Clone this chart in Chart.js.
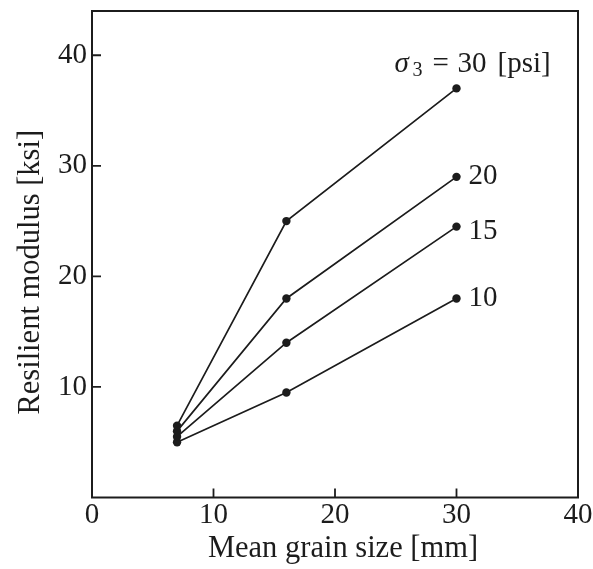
<!DOCTYPE html>
<html lang="en">
<head>
    <meta charset="UTF-8">
    <title>Resilient modulus vs grain size</title>
    <style>
        body {
            margin: 0;
            background: #fff;
        }
        canvas {
            display: block;
        }
    </style>
    <script src="https://cdn.jsdelivr.net/npm/chart.js"></script>
</head>
<body>

<canvas id="grafico" width="593" height="569"></canvas>

<script>
// data
const grainSize = [7, 16, 30];
const confiningPressure = ['30', '20', '15', '10'];
const modulus30 = [6.5, 25, 37];
const modulus20 = [6, 18, 29];
const modulus15 = [5.5, 14, 24.5];
const modulus10 = [5, 9.5, 18];
const xTicks = [0, 10, 20, 30, 40];
const yTicks = [10, 20, 30, 40];

const serif = '"Liberation Serif", "DejaVu Serif", serif';
const ink = '#1c1c1c';

const series = [modulus30, modulus20, modulus15, modulus10];

// box, inward ticks, curve labels and axis titles
const boxPlugin = {
    id: 'box',
    afterDraw(chart) {
        const ctx = chart.ctx;
        const a = chart.chartArea;
        const xs = chart.scales.x;
        const ys = chart.scales.y;
        ctx.save();
        ctx.strokeStyle = ink;
        ctx.lineWidth = 2;
        ctx.strokeRect(a.left, a.top, a.right - a.left, a.bottom - a.top);

        ctx.lineWidth = 1.8;
        ctx.beginPath();
        xTicks.forEach(v => {
            if (v <= xs.min || v >= xs.max) return;
            const px = xs.getPixelForValue(v);
            ctx.moveTo(px, a.bottom);
            ctx.lineTo(px, a.bottom - 9);
        });
        yTicks.forEach(v => {
            const py = ys.getPixelForValue(v);
            ctx.moveTo(a.left, py);
            ctx.lineTo(a.left + 9, py);
        });
        ctx.stroke();

        // curve labels next to last points
        ctx.fillStyle = ink;
        const last = grainSize.length - 1;
        const lx = xs.getPixelForValue(grainSize[last]);
        const dy = [0, 0, 5, 0];
        confiningPressure.forEach((p, i) => {
            const ly = ys.getPixelForValue(series[i][last]);
            if (i === 0) {
                // sigma_3 = 30 [psi]
                const x0 = lx - 62;
                const y = ly - 16;
                ctx.textBaseline = 'alphabetic';
                ctx.textAlign = 'left';
                ctx.font = 'italic 29px ' + serif;
                ctx.fillText('σ', x0, y);
                ctx.font = '20px ' + serif;
                ctx.fillText('3', x0 + 18, y + 4);
                ctx.font = '29px ' + serif;
                ctx.fillText('=', x0 + 38, y);
                ctx.fillText(p, x0 + 63, y);
                ctx.fillText('[psi]', x0 + 103, y);
            } else {
                ctx.textBaseline = 'middle';
                ctx.font = '29px ' + serif;
                ctx.fillText(p, lx + 12, ly + dy[i]);
            }
        });

        // axis titles
        ctx.font = '30.5px ' + serif;
        ctx.textAlign = 'center';
        ctx.textBaseline = 'alphabetic';
        ctx.fillText('Mean grain size [mm]', (a.left + a.right) / 2 + 8, 557);
        ctx.translate(39, (a.top + a.bottom) / 2 + 18);
        ctx.rotate(-Math.PI / 2);
        ctx.fillText('Resilient modulus [ksi]', 0, 0);
        ctx.restore();
    }
};

const ctx = document.getElementById('grafico').getContext('2d');
const chart = new Chart(ctx, {
    type: 'line',
    data: {
        datasets: series.map((vals, i) => ({
            label: confiningPressure[i],
            data: grainSize.map((g, j) => ({ x: g, y: vals[j] })),
            borderColor: ink,
            backgroundColor: ink,
            borderWidth: 1.7,
            pointRadius: 4.2,
            pointBorderWidth: 0,
            tension: 0,
            fill: false
        }))
    },
    options: {
        responsive: false,
        animation: false,
        layout: {
            padding: { top: 11, right: 15, left: 0, bottom: 0 }
        },
        plugins: {
            legend: { display: false },
            tooltip: { enabled: false }
        },
        scales: {
            x: {
                type: 'linear',
                min: 0,
                max: 40,
                afterBuildTicks: s => { s.ticks = xTicks.map(v => ({ value: v })); },
                afterFit: s => { s.height = 71.5; s.paddingLeft = 0; s.paddingRight = 0; },
                grid: { display: false, drawTicks: false },
                border: { display: false },
                ticks: {
                    color: ink,
                    padding: 0,
                    maxRotation: 0,
                    font: { family: serif, size: 29 }
                }
            },
            y: {
                type: 'linear',
                min: 0,
                max: 44,
                afterBuildTicks: s => { s.ticks = yTicks.map(v => ({ value: v })); },
                afterFit: s => { s.width = 92; s.paddingTop = 0; s.paddingBottom = 0; },
                grid: { display: false, drawTicks: false },
                border: { display: false },
                ticks: {
                    color: ink,
                    padding: 5,
                    font: { family: serif, size: 29 }
                }
            }
        }
    },
    plugins: [boxPlugin]
});
</script>

</body>
</html>
